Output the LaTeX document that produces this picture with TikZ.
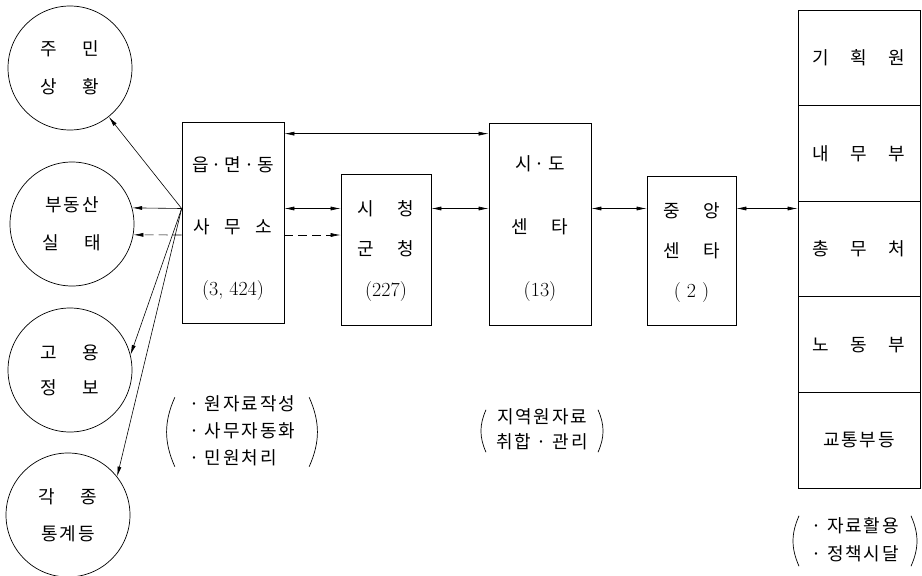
\documentclass[tikz,border=0pt]{standalone}
\usepackage{fontspec}
\newfontfamily\kr[LetterSpace=10]{Noto Sans CJK KR}
\usetikzlibrary{arrows.meta}
\newcommand\cnt[2]{{\rmfamily\fontsize{20}{#1}\selectfont #2}}

\begin{document}
\begin{tikzpicture}[
		x=1pt, y=-1pt,
		>={Latex[length=10pt,width=4pt]},
		every node/.style={font=\kr\fontsize{18}{38}\selectfont},
		ball/.style={circle,draw,line width=0.7pt,minimum size=124pt,inner sep=0pt,align=center},
		office/.style={rectangle,draw,line width=0.7pt,inner sep=0pt},
		dept/.style={rectangle,draw,line width=0.7pt,minimum width=122pt,minimum height=95.6pt,inner sep=0pt},
		words/.style={align=center,inner sep=0pt},
		remark/.style={inner ysep=0pt},
		paren/.style={line width=0.7pt},
		link/.style={<->,line width=0.6pt}
	]
	\useasboundingbox (0,0) rectangle (922,576);

	% circles on the left
	\node[ball] (c1) at (70,68) {주\hspace{1.4em}민\\상\hspace{1.4em}황};
	\node[ball] (c2) at (72,224) {부동산\\실\hspace{1.4em}태};
	\node[ball, font=\kr\fontsize{18}{35}\selectfont] (c3) at (70,370) {고\hspace{1.4em}용\\정\hspace{1.4em}보};
	\node[ball, font=\kr\fontsize{18}{37}\selectfont] (c4) at (68,515) {각\hspace{1.4em}종\\통계등};

	% offices
	\node[office, minimum width=102pt, minimum height=201pt] (eup) at (233,222.5) {};
	\node[words, font=\kr\fontsize{18}{62}\selectfont] (eupT) at (233,229)
		{읍\,·\,면\,·\,동\\사\hspace{0.8em}무\hspace{0.8em}소\\\cnt{62}{(3, 424)}};
	\node[office, minimum width=90pt, minimum height=151pt] (sicheong) at (386,249.5) {};
	\node[words, font=\kr\fontsize{18}{40.5}\selectfont] (sicheongT) at (386,251)
		{시\hspace{1.3em}청\\군\hspace{1.3em}청\\\cnt{40.5}{(227)}};
	\node[office, minimum width=102pt, minimum height=202pt] (sido) at (540,224) {};
	\node[words, font=\kr\fontsize{18}{63}\selectfont] (sidoT) at (540,229)
		{시\,·\,도\\센\hspace{1.3em}타\\\cnt{63}{(13)}};
	\node[office, minimum width=89pt, minimum height=149pt] (jungang) at (691.5,250.5) {};
	\node[words, font=\kr\fontsize{18}{40}\selectfont] (jungangT) at (691.5,253)
		{중\hspace{1.3em}앙\\센\hspace{1.3em}타\\\cnt{40}{( 2 )}};

	% ministries
	\node[dept] (d1) at (859,57.8) {기\hspace{1.2em}획\hspace{1.2em}원};
	\node[dept] (d2) at (859,153.4) {내\hspace{1.2em}무\hspace{1.2em}부};
	\node[dept] (d3) at (859,249) {총\hspace{1.2em}무\hspace{1.2em}처};
	\node[dept] (d4) at (859,344.6) {노\hspace{1.2em}동\hspace{1.2em}부};
	\node[dept] (d5) at (859,440.2) {교통부등};

	% links
	\coordinate (hub) at ([yshift=14pt]eup.west);
	\coordinate (dash) at ([yshift=-12.5pt]eup.west);
	\draw[link] ([yshift=-12pt]eup.north east) -- ([yshift=-12pt]eup.north east -| sido.west);
	\draw[link] (eup.east |- hub) -- (sicheong.west |- hub);
	\draw[link] (sicheong.east |- hub) -- (sido.west |- hub);
	\draw[link] (sido.east |- hub) -- (jungang.west |- hub);
	\draw[link] (jungang.east |- hub) -- (d3.west |- hub);
	\draw[->, line width=0.6pt, dash pattern=on 9pt off 5pt] (eup.east |- dash) -- (sicheong.west |- dash);
	\draw[->, line width=0.6pt, dash pattern=on 9pt off 5pt] (dash) -- (c2.-10);
	\draw[->, line width=0.6pt] (hub) -- (c1);
	\draw[->, line width=0.6pt] (hub) -- (c2.15);
	\draw[->, line width=0.6pt] (hub) -- (c3.14);
	\draw[->, line width=0.6pt] (hub) -- (c4.38);

	% remarks
	\node[remark, inner xsep=14pt, font=\kr\fontsize{18}{27}\selectfont] (n1) at (242,432)
		{\begin{tabular}{@{}l@{}}· 원자료작성\\· 사무자동화\\· 민원처리\end{tabular}};
	\draw[paren] ([yshift=-6pt]n1.north west) to[bend right=24] ([yshift=6pt]n1.south west);
	\draw[paren] ([yshift=-6pt]n1.north east) to[bend left=24] ([yshift=6pt]n1.south east);
	\node[remark, inner xsep=10pt, font=\kr\fontsize{18}{25}\selectfont] (n2) at (542,431)
		{\begin{tabular}{@{}c@{}}지역원자료\\취합 · 관리\end{tabular}};
	\draw[paren] ([yshift=-4pt]n2.north west) to[bend right=24] ([yshift=4pt]n2.south west);
	\draw[paren] ([yshift=-4pt]n2.north east) to[bend left=24] ([yshift=4pt]n2.south east);
	\node[remark, inner xsep=12pt, font=\kr\fontsize{18}{28}\selectfont] (n3) at (855,541)
		{\begin{tabular}{@{}l@{}}· 자료활용\\· 정책시달\end{tabular}};
	\draw[paren] ([yshift=-3pt]n3.north west) to[bend right=24] ([yshift=3pt]n3.south west);
	\draw[paren] ([yshift=-3pt]n3.north east) to[bend left=24] ([yshift=3pt]n3.south east);
\end{tikzpicture}
\end{document}
